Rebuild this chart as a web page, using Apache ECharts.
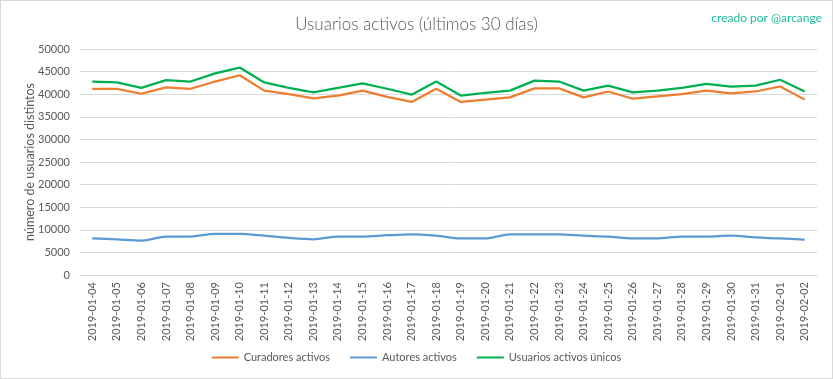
<!DOCTYPE html>
<html>
<head>
<meta charset="utf-8">
<script src="https://cdn.jsdelivr.net/npm/echarts@6/dist/echarts.min.js"></script>
<style>
html,body{margin:0;padding:0;background:#fff;}
#c{width:831px;height:377px;border:1px solid #d9d9d9;}
</style>
</head>
<body>
<div id="c"></div>
<script>
var categories = ['2019-01-04','2019-01-05','2019-01-06','2019-01-07','2019-01-08','2019-01-09','2019-01-10','2019-01-11','2019-01-12','2019-01-13','2019-01-14','2019-01-15','2019-01-16','2019-01-17','2019-01-18','2019-01-19','2019-01-20','2019-01-21','2019-01-22','2019-01-23','2019-01-24','2019-01-25','2019-01-26','2019-01-27','2019-01-28','2019-01-29','2019-01-30','2019-01-31','2019-02-01','2019-02-02'];
var curadores = [41200,41200,40100,41500,41200,42800,44200,40800,40000,39100,39700,40800,39400,38300,41200,38300,38800,39300,41300,41300,39300,40600,39000,39500,40000,40800,40200,40600,41700,38800];
var autores = [8100,7900,7600,8500,8500,9100,9100,8700,8200,7900,8500,8500,8800,9000,8700,8100,8100,9000,9000,9000,8700,8500,8100,8100,8500,8500,8700,8300,8100,7800];
var unicos = [42800,42600,41400,43100,42800,44600,45900,42600,41400,40400,41400,42400,41200,39900,42800,39700,40300,40800,43000,42800,40800,41900,40400,40800,41400,42300,41700,41900,43200,40600];
var seriesNames = ['Curadores activos','Autores activos','Usuarios activos únicos'];

var chart = echarts.init(document.getElementById('c'));
var txt = '#595959';
chart.setOption({
  animation: false,
  textStyle: {fontFamily: 'Lato'},
  title: [
    {text: 'Usuarios activos (últimos 30 días)', left: 'center', top: 10,
     textStyle: {fontFamily: 'Lato', fontWeight: 300, fontSize: 17, color: txt}},
    {text: 'creado por @arcange', right: 5, top: 6,
     textStyle: {fontFamily: 'Lato', fontWeight: 'normal', fontSize: 12, color: '#1abc9c'}}
  ],
  legend: {
    bottom: 10, left: 'center', itemWidth: 27, itemHeight: 2, itemGap: 20,
    icon: 'rect',
    textStyle: {color: txt, fontSize: 11, fontFamily: 'Lato'},
    data: seriesNames
  },
  grid: {left: 79, right: 15, top: 48, bottom: 103},
  xAxis: {
    type: 'category', data: categories, boundaryGap: true,
    axisLine: {lineStyle: {color: '#d9d9d9'}},
    axisTick: {show: false},
    axisLabel: {rotate: 90, color: txt, fontSize: 11, interval: 0, margin: 7, fontFamily: 'Lato'}
  },
  yAxis: {
    type: 'value', min: 0, max: 50000, interval: 5000,
    name: 'número de usuarios distintos', nameLocation: 'middle', nameGap: 44,
    nameMoveOverlap: false,
    nameTextStyle: {color: txt, fontSize: 12.5, fontFamily: 'Lato'},
    axisLine: {show: false}, axisTick: {show: false},
    axisLabel: {color: txt, fontSize: 11, margin: 10, fontFamily: 'Lato',
      formatter: function (v) { return String(v); }},
    splitLine: {lineStyle: {color: '#d9d9d9'}}
  },
  series: [
    {name: seriesNames[0], type: 'line', data: curadores, showSymbol: false,
     lineStyle: {width: 2.25, color: '#ED7D31'}, itemStyle: {color: '#ED7D31'}},
    {name: seriesNames[1], type: 'line', data: autores, showSymbol: false, smooth: 0.3,
     lineStyle: {width: 2.25, color: '#5B9BD5'}, itemStyle: {color: '#5B9BD5'}},
    {name: seriesNames[2], type: 'line', data: unicos, showSymbol: false,
     lineStyle: {width: 2.25, color: '#00B050'}, itemStyle: {color: '#00B050'}}
  ]
});
</script>
</body>
</html>
